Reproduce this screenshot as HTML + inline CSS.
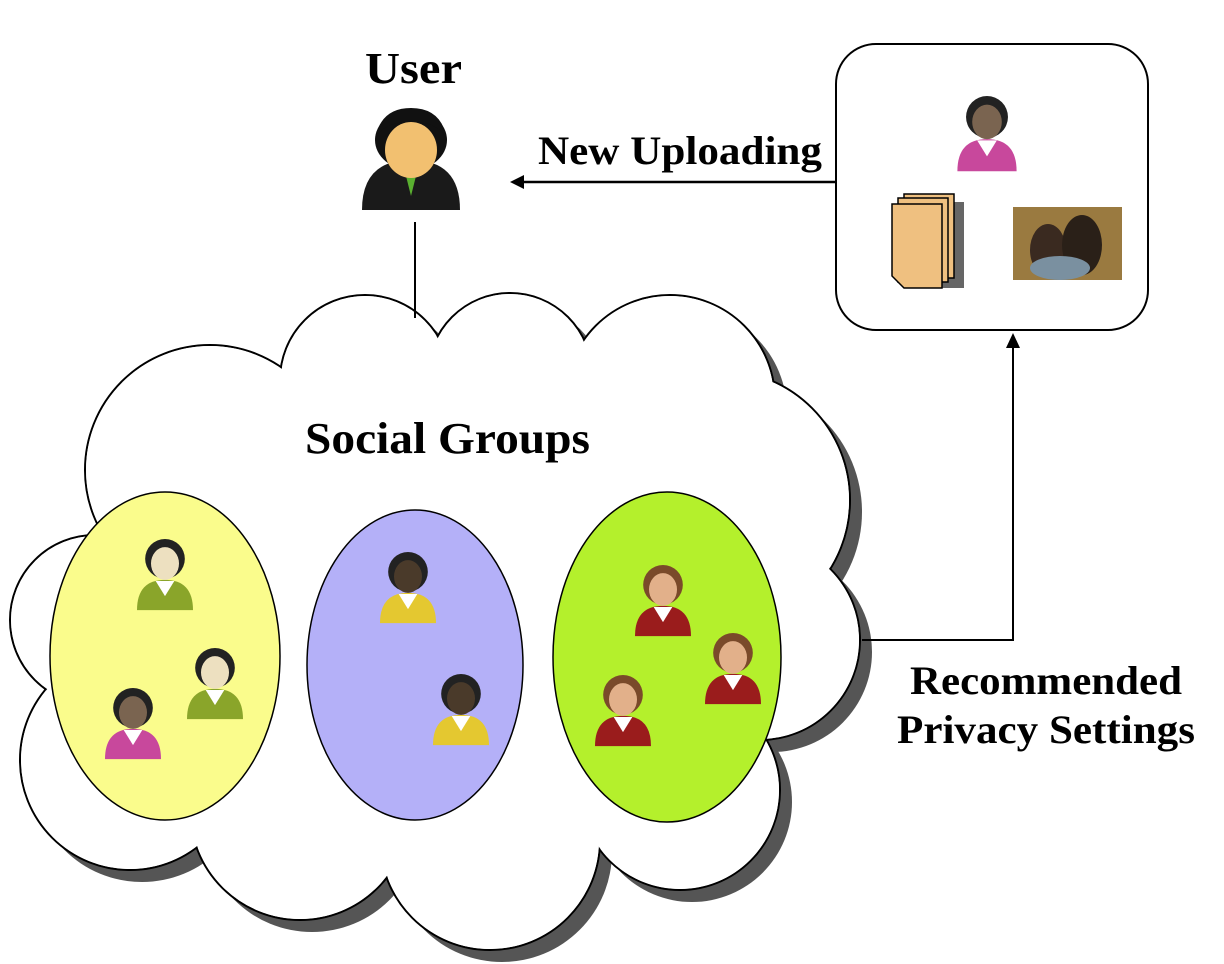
<!DOCTYPE html>
<html><head><meta charset="utf-8"><style>
html,body{margin:0;padding:0;background:#fff;}
svg{display:block;}
text{font-family:"Liberation Serif",serif;font-weight:bold;fill:#000;}
</style></head><body>
<svg width="1224" height="964" viewBox="0 0 1224 964" xmlns="http://www.w3.org/2000/svg">
<defs>
<symbol id="p" viewBox="0 0 60 66">
  <path d="M6,64 Q6,38 30,38 Q54,38 54,64 Z" fill="var(--b)"/>
  <path d="M22,39 L30,52 L38,39 Z" fill="#fff"/>
  <circle cx="30" cy="20" r="17" fill="var(--h)"/>
  <ellipse cx="30" cy="24" rx="12" ry="14" fill="var(--f)"/>
</symbol>
</defs>
<g fill="#555" transform="translate(12,12)">
<circle cx="210" cy="470" r="125"/><circle cx="365" cy="380" r="85"/><circle cx="510" cy="375" r="82"/>
<circle cx="670" cy="400" r="105"/><circle cx="720" cy="500" r="130"/><circle cx="760" cy="640" r="100"/>
<circle cx="680" cy="790" r="100"/><circle cx="490" cy="840" r="110"/><circle cx="300" cy="810" r="110"/>
<circle cx="130" cy="760" r="110"/><circle cx="95" cy="620" r="85"/><circle cx="450" cy="620" r="260"/>
</g>
<g fill="#fff" stroke="#000" stroke-width="2">
<circle cx="210" cy="470" r="125"/><circle cx="365" cy="380" r="85"/><circle cx="510" cy="375" r="82"/>
<circle cx="670" cy="400" r="105"/><circle cx="720" cy="500" r="130"/><circle cx="760" cy="640" r="100"/>
<circle cx="680" cy="790" r="100"/><circle cx="490" cy="840" r="110"/><circle cx="300" cy="810" r="110"/>
<circle cx="130" cy="760" r="110"/><circle cx="95" cy="620" r="85"/>
</g>
<g fill="#fff">
<circle cx="210" cy="470" r="124"/><circle cx="365" cy="380" r="84"/><circle cx="510" cy="375" r="81"/>
<circle cx="670" cy="400" r="104"/><circle cx="720" cy="500" r="129"/><circle cx="760" cy="640" r="99"/>
<circle cx="680" cy="790" r="99"/><circle cx="490" cy="840" r="109"/><circle cx="300" cy="810" r="109"/>
<circle cx="130" cy="760" r="109"/><circle cx="95" cy="620" r="84"/><circle cx="450" cy="620" r="260"/>
</g>
<text x="305" y="453" font-size="44" textLength="285" lengthAdjust="spacingAndGlyphs">Social Groups</text>
<ellipse cx="165" cy="656" rx="115" ry="164" fill="#fafc8c" stroke="#000" stroke-width="1.5"/>
<ellipse cx="415" cy="665" rx="108" ry="155" fill="#b4b0f8" stroke="#000" stroke-width="1.5"/>
<ellipse cx="667" cy="657" rx="114" ry="165" fill="#b4f02c" stroke="#000" stroke-width="1.5"/>
<g style="--b:#8aa52a;--h:#222;--f:#ede0c0"><use href="#p" x="130" y="535" width="70" height="78"/><use href="#p" x="180" y="644" width="70" height="78"/></g>
<g style="--b:#c8489c;--h:#222;--f:#7a6450"><use href="#p" x="98" y="684" width="70" height="78"/></g>
<g style="--b:#e4c830;--h:#222;--f:#4a3a2a"><use href="#p" x="373" y="548" width="70" height="78"/><use href="#p" x="426" y="670" width="70" height="78"/></g>
<g style="--b:#9a1c1c;--h:#7a4a2a;--f:#e2b08a"><use href="#p" x="628" y="560" width="70" height="80"/><use href="#p" x="698" y="628" width="70" height="80"/><use href="#p" x="588" y="670" width="70" height="80"/></g>
<text x="365" y="83" font-size="44" textLength="97" lengthAdjust="spacingAndGlyphs">User</text>
<path d="M362,210 Q362,160 411,160 Q460,160 460,210 Z" fill="#1a1a1a"/>
<path d="M404,168 L411,196 L418,168 Z" fill="#5ab030"/>
<ellipse cx="411" cy="140" rx="36" ry="30" fill="#111"/>
<ellipse cx="411" cy="150" rx="26" ry="28" fill="#f2c070"/>
<path d="M375,140 Q380,108 411,108 Q442,108 447,140 Q440,122 411,122 Q382,122 375,140Z" fill="#111"/>
<line x1="415" y1="222" x2="415" y2="318" stroke="#000" stroke-width="2"/>
<text x="538" y="164" font-size="40" textLength="284" lengthAdjust="spacingAndGlyphs">New Uploading</text>
<line x1="836" y1="182" x2="520" y2="182" stroke="#000" stroke-width="2.5"/>
<path d="M510,182 L524,175 L524,189 Z" fill="#000"/>
<rect x="836" y="44" width="312" height="286" rx="40" fill="#fff" stroke="#000" stroke-width="2"/>
<g style="--b:#c8489c;--h:#222;--f:#7a6450"><use href="#p" x="950" y="92" width="74" height="82"/></g>
<rect x="908" y="202" width="56" height="86" fill="#666"/>
<rect x="904" y="194" width="50" height="84" fill="#efc080" stroke="#000" stroke-width="1.5"/>
<rect x="898" y="198" width="50" height="84" fill="#efc080" stroke="#000" stroke-width="1.5"/>
<path d="M892,204 L942,204 L942,288 L904,288 L892,276 Z" fill="#efc080" stroke="#000" stroke-width="1.5"/>
<rect x="1013" y="207" width="109" height="73" fill="#9a7a40"/>
<ellipse cx="1048" cy="250" rx="18" ry="26" fill="#3a2a20"/>
<ellipse cx="1082" cy="245" rx="20" ry="30" fill="#2a2018"/>
<ellipse cx="1060" cy="268" rx="30" ry="12" fill="#7a90a0"/>
<polyline points="862,640 1013,640 1013,345" fill="none" stroke="#000" stroke-width="2"/>
<path d="M1013,333 L1006,348 L1020,348 Z" fill="#000"/>
<text x="910" y="694" font-size="40" textLength="272" lengthAdjust="spacingAndGlyphs">Recommended</text>
<text x="897" y="743" font-size="40" textLength="298" lengthAdjust="spacingAndGlyphs">Privacy Settings</text>
</svg>
</body></html>
